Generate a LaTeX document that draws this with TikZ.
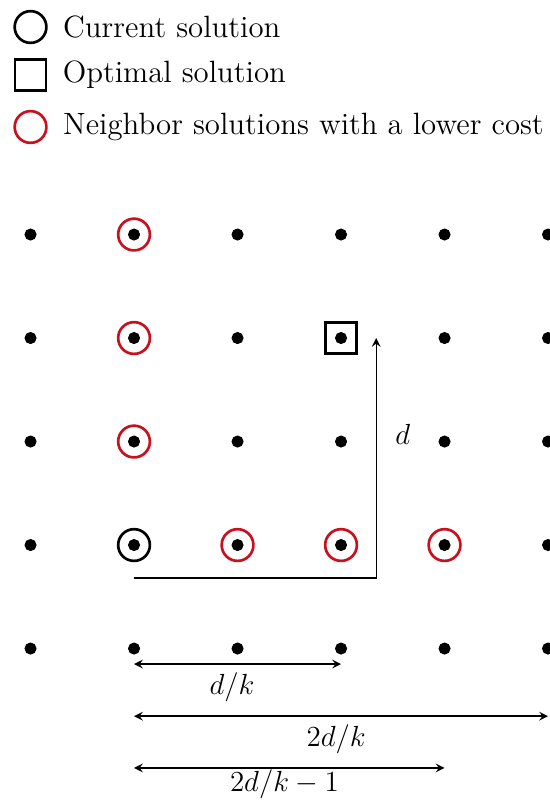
\documentclass[tikz,border=0pt]{standalone}
\usetikzlibrary{positioning}

\definecolor{nbrred}{RGB}{200,16,30}

\newcommand*{\icols}{5}
\newcommand*{\jrows}{4}

\begin{document}
\begin{tikzpicture}
[
	x=1.5cm,y=1.5cm,
	font=\fontsize{12.7}{15}\selectfont,
	gridpt/.style={circle,draw,fill,inner sep=0pt,minimum size=0.16cm},
	cursol/.style={circle,draw,line width=1.1pt,inner sep=0pt,minimum size=0.46cm},
	nbrsol/.style={cursol,draw=nbrred},
	optsol/.style={rectangle,draw,line width=1.1pt,inner sep=0pt,minimum size=0.45cm},
	dimarrow/.style={stealth-stealth,semithick}
]
	\useasboundingbox (-0.295,-1.473) rectangle (5.01,6.266);

	% legend
	\node[cursol] (curmark) at (0,6.005) {};
	\node[optsol] (optmark) at (0,5.541) {};
	\node[nbrsol] (nbrmark) at (0,5.039) {};
	\node[right=1mm of curmark] (curtext) {Current solution};
	\node[right=1mm of optmark] (opttext) {Optimal solution};
	\node[right=1mm of nbrmark] (nbrtext) {Neighbor solutions with a lower cost};

	% grid of solutions
	\foreach \i in {0,...,\icols}
		\foreach \j in {0,...,\jrows}
			\node[gridpt] (p\i\j) at (\i,\j) {};

	\node[cursol] (cur) at (p11) {};
	\node[optsol] (opt) at (p33) {};
	\foreach \n in {12,13,14,21,31,41}
		\node[nbrsol] (nbr\n) at (p\n) {};

	% distance to the optimum
	\coordinate (dstart) at ([yshift=-0.48cm]cur.center);
	\coordinate (dend) at ([xshift=0.51cm]opt.center);
	\draw[-stealth,semithick] (dstart) -| (dend) node[pos=0.8,right=1.5mm] {$d$};

	% step lengths
	\draw[dimarrow] ([yshift=-0.225cm]p10.center) -- ([yshift=-0.225cm]p30.center)
		node[midway,below,xshift=-0.08cm] {$d/k$};
	\draw[dimarrow] ([yshift=-0.98cm]p10.center) -- ([yshift=-0.98cm]p50.center)
		node[midway,below,xshift=-0.07cm] {$2d/k$};
	\draw[dimarrow] ([yshift=-1.73cm]p10.center) -- ([yshift=-1.73cm]p40.center)
		node[midway,below=-1mm,xshift=-0.07cm] {$2d/k-1$};

\end{tikzpicture}
\end{document}
